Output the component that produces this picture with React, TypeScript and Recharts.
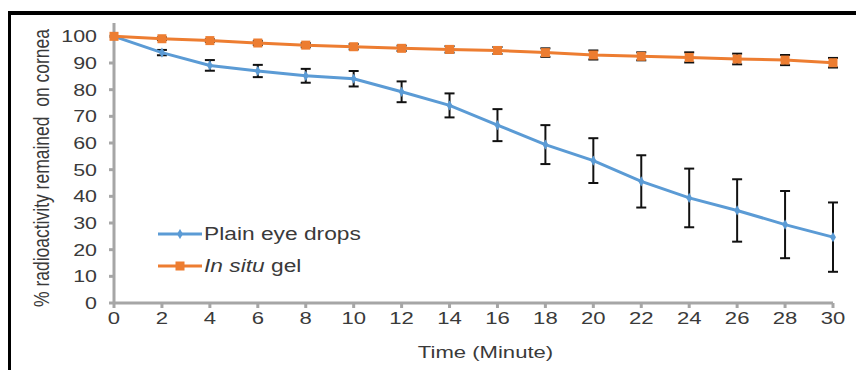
import React from 'react';
import { LineChart, Line, XAxis, YAxis, ErrorBar, Legend, Symbols } from 'recharts';

// values (minutes, % remaining, +/- error)
const times = [0, 2, 4, 6, 8, 10, 12, 14, 16, 18, 20, 22, 24, 26, 28, 30];
const plainMean = [100, 93.9, 89.1, 87, 85.2, 84.1, 79.2, 74.1, 66.7, 59.4, 53.4, 45.6, 39.4, 34.7, 29.4, 24.7];
const plainErr = [0, 1, 2, 2.3, 2.6, 2.9, 3.9, 4.5, 6, 7.3, 8.4, 9.8, 11, 11.7, 12.6, 13];
const gelMean = [100, 99.1, 98.4, 97.5, 96.7, 96.1, 95.5, 95.1, 94.7, 93.9, 93, 92.5, 92.1, 91.5, 91.1, 90.1];
const gelErr = [0, 0.5, 0.5, 0.8, 0.8, 1, 1, 1.2, 1.3, 1.6, 1.7, 1.5, 1.9, 2, 1.9, 1.8];
const xTicks = [0, 2, 4, 6, 8, 10, 12, 14, 16, 18, 20, 22, 24, 26, 28, 30];
const yTicks = [0, 10, 20, 30, 40, 50, 60, 70, 80, 90, 100];

const data = times.map((t, i) => ({
  t,
  plain: plainMean[i],
  plainErr: plainErr[i],
  gel: gelMean[i],
  gelErr: gelErr[i],
}));

const BLUE = '#5B9BD5';
const ORANGE = '#ED7D31';
const AXIS = '#a6a6a6';
const TEXT = '#3a3a3a';
const FONT = '"Liberation Sans", Arial, sans-serif';
const STRETCH = 1.3; // the source image is stretched sideways

const XTick = (props: any) => {
  const { x, y, payload } = props;
  return (
    <g transform={`translate(${x},${y})`}>
      <text x={0} y={0} dy={13} textAnchor="middle" fontSize={17} fontFamily={FONT} fill={TEXT} transform={`scale(${STRETCH},1)`}>
        {payload.value}
      </text>
    </g>
  );
};

const YTick = (props: any) => {
  const { x, y, payload } = props;
  return (
    <g transform={`translate(${x},${y})`}>
      <text x={0} y={0} dy={6} textAnchor="end" fontSize={16.5} fontFamily={FONT} fill={TEXT} transform={`scale(${STRETCH},1)`}>
        {payload.value}
      </text>
    </g>
  );
};

const Diamond = (props: any) => {
  const { cx, cy, index } = props;
  if (cx == null || cy == null) return <g key={`d${index}`} />;
  return <Symbols key={`d${index}`} cx={cx} cy={cy} type="diamond" size={30} fill={BLUE} />;
};

const Square = (props: any) => {
  const { cx, cy, index } = props;
  if (cx == null || cy == null) return <g key={`s${index}`} />;
  return <rect key={`s${index}`} x={cx - 4.5} y={cy - 4.5} width={9} height={9} fill={ORANGE} />;
};

const legendText: React.CSSProperties = {
  display: 'inline-block',
  fontFamily: FONT,
  fontSize: 17.5,
  color: TEXT,
  transform: `scaleX(${STRETCH})`,
  transformOrigin: 'left center',
  whiteSpace: 'pre',
};

const LegendBox = () => (
  <div style={{ lineHeight: '32px' }}>
    <div style={{ display: 'flex', alignItems: 'center', height: 32 }}>
      <svg width={46} height={10}>
        <line x1={0} y1={5} x2={44} y2={5} stroke={BLUE} strokeWidth={3} />
        <Symbols cx={22} cy={5} type="diamond" size={30} fill={BLUE} />
      </svg>
      <span style={legendText}>Plain eye drops</span>
    </div>
    <div style={{ display: 'flex', alignItems: 'center', height: 32 }}>
      <svg width={46} height={10}>
        <line x1={0} y1={5} x2={44} y2={5} stroke={ORANGE} strokeWidth={3} />
        <rect x={17.5} y={0.5} width={9} height={9} fill={ORANGE} />
      </svg>
      <span style={legendText}>
        <i>In situ</i> gel
      </span>
    </div>
  </div>
);

export default function App() {
  return (
    <div style={{ position: 'absolute', left: 0, top: 0, width: 856, height: 370, overflow: 'hidden', background: '#fff' }}>
      <div
        style={{
          position: 'absolute',
          left: 8,
          top: 11,
          width: 856,
          height: 370,
          borderTop: '4px solid #000',
          borderLeft: '3px solid #000',
        }}
      />
      <div style={{ position: 'absolute', left: 0, top: 0 }}>
        <LineChart width={856} height={370} data={data} margin={{ top: 23, right: 23, bottom: 27, left: 54 }}>
          <XAxis
            dataKey="t"
            type="number"
            domain={[0, 30]}
            ticks={xTicks}
            interval={0}
            height={40}
            stroke={AXIS}
            strokeWidth={3}
            tickSize={5}
            tickMargin={3}
            tick={XTick}
            label={{
              content: (p: any) => {
                const vb = p.viewBox;
                return (
                  <text
                    x={0}
                    y={0}
                    textAnchor="middle"
                    fontSize={17}
                    fontFamily={FONT}
                    fill={TEXT}
                    transform={`translate(${vb.x + vb.width / 2 + 12},${vb.y + 55}) scale(${STRETCH},1)`}
                  >
                    Time (Minute)
                  </text>
                );
              },
            }}
          />
          <YAxis
            type="number"
            domain={[0, 105]}
            ticks={yTicks}
            interval={0}
            width={60}
            stroke={AXIS}
            strokeWidth={3}
            tickSize={5}
            tickMargin={12}
            tick={YTick}
            label={{
              content: (p: any) => {
                const vb = p.viewBox;
                const cx = 41;
                const cy = vb.y + vb.height / 2 + 5;
                return (
                  <text
                    x={0}
                    y={0}
                    dy={6}
                    textAnchor="middle"
                    fontSize={17.5}
                    fontFamily={FONT}
                    fill={TEXT}
                    style={{ whiteSpace: 'pre' }}
                    transform={`translate(${cx},${cy}) rotate(-90) scale(1,${STRETCH})`}
                  >
                    {'% radioactivity remained  on cornea'}
                  </text>
                );
              },
            }}
          />
          <Legend
            layout="horizontal"
            verticalAlign="middle"
            align="center"
            content={LegendBox}
            wrapperStyle={{ position: 'absolute', left: 158, top: 218, width: 'auto', height: 'auto' }}
          />
          <Line
            dataKey="plain"
            stroke={BLUE}
            strokeWidth={3}
            dot={Diamond}
            activeDot={false}
            isAnimationActive={false}
          >
            <ErrorBar dataKey="plainErr" direction="y" width={5} stroke="#111" strokeWidth={2} />
          </Line>
          <Line
            dataKey="gel"
            stroke={ORANGE}
            strokeWidth={3}
            dot={Square}
            activeDot={false}
            isAnimationActive={false}
          >
            <ErrorBar dataKey="gelErr" direction="y" width={5} stroke="#111" strokeWidth={2} />
          </Line>
        </LineChart>
      </div>
    </div>
  );
}
